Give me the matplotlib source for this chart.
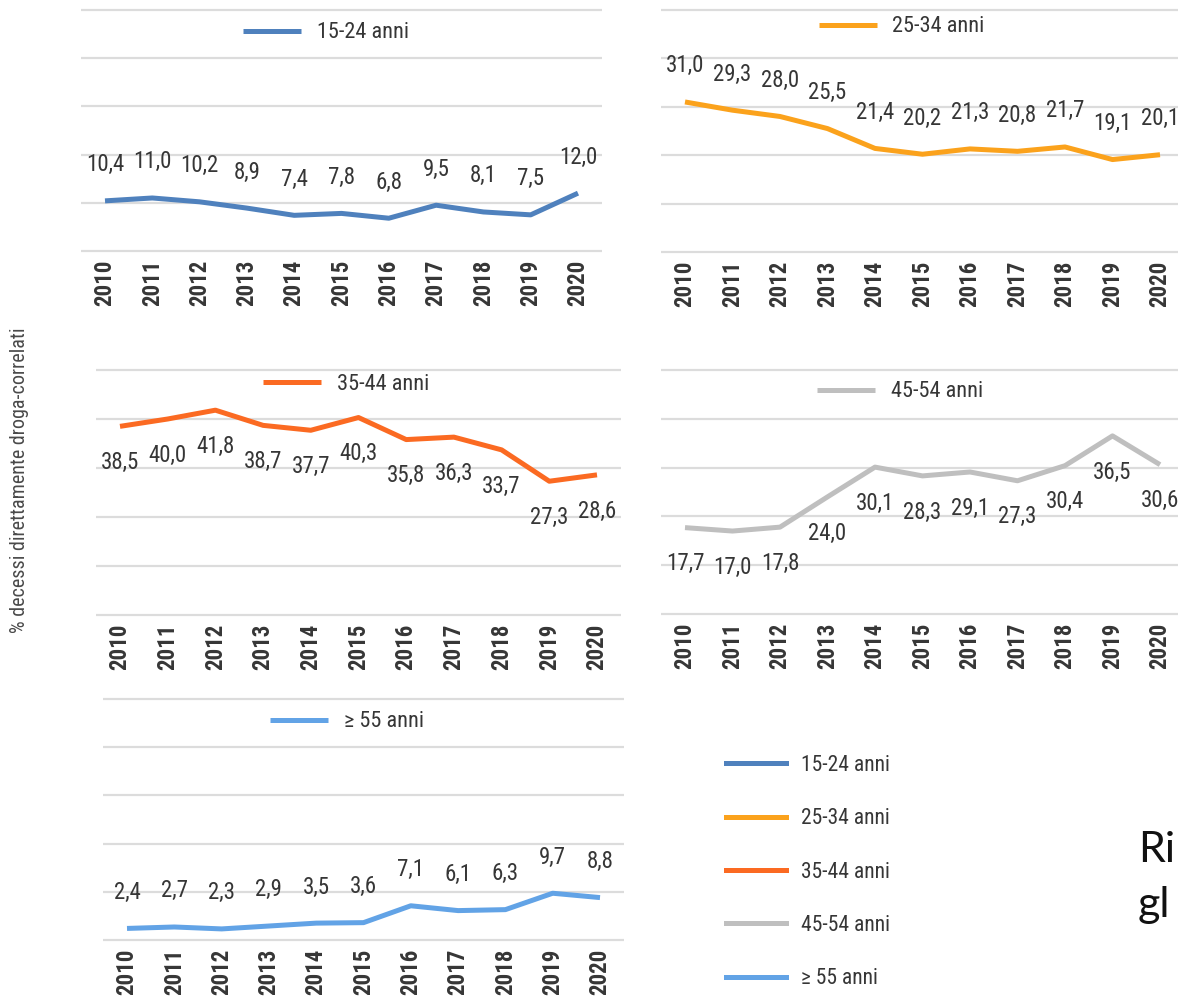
import matplotlib as mpl
from matplotlib import font_manager
import matplotlib.pyplot as plt
import numpy as np

# pick a narrow face if one is around
_names = set(f.name for f in font_manager.fontManager.ttflist)
_pref = ['Roboto Condensed', 'Liberation Sans Narrow', 'Open Sans Condensed', 'Noto Sans Condensed',
         'DejaVu Sans Condensed', 'Roboto', 'Liberation Sans']
NARROW = [n for n in _pref if n in _names][:1] + ['DejaVu Sans']
mpl.rcParams['font.family'] = NARROW

YEARS = ['2010', '2011', '2012', '2013', '2014', '2015', '2016', '2017', '2018', '2019', '2020']

AGE_15_24 = [10.4, 11.0, 10.2, 8.9, 7.4, 7.8, 6.8, 9.5, 8.1, 7.5, 12.0]
AGE_25_34 = [31.0, 29.3, 28.0, 25.5, 21.4, 20.2, 21.3, 20.8, 21.7, 19.1, 20.1]
AGE_35_44 = [38.5, 40.0, 41.8, 38.7, 37.7, 40.3, 35.8, 36.3, 33.7, 27.3, 28.6]
AGE_45_54 = [17.7, 17.0, 17.8, 24.0, 30.1, 28.3, 29.1, 27.3, 30.4, 36.5, 30.6]
AGE_55 = [2.4, 2.7, 2.3, 2.9, 3.5, 3.6, 7.1, 6.1, 6.3, 9.7, 8.8]

LABELS = ['15-24 anni', '25-34 anni', '35-44 anni', '45-54 anni', '\u2265 55 anni']
COLORS = ['#4f81bd', '#fba21c', '#fb6a22', '#bfbfbf', '#62a3e6']

W, H = 1178, 1001
TXT = '#363636'

def px_rect(x0, x10, y0, y50):
    # x0/x10: pixel of first/last category, y0/y50: pixel of value 0 / 50
    step = (x10 - x0) / 10.0
    left = x0 - step / 2
    right = x10 + step / 2
    return [left / W, 1 - y0 / H, (right - left) / W, (y0 - y50) / H]

# panel: rect, values, above/below labels, legend anchor
panels = [
    (px_rect(105, 578, 251, 10), AGE_15_24, 1, (0.47, 0.905)),
    (px_rect(685, 1160, 252, 10), AGE_25_34, 1, (0.46, 0.93)),
    (px_rect(120, 597, 615, 370), AGE_35_44, -1, (0.476, 0.94)),
    (px_rect(685, 1160, 614, 370), AGE_45_54, -1, (0.457, 0.91)),
    (px_rect(127, 600, 940, 699), AGE_55, 1, (0.468, 0.905)),
]

fig = plt.figure(figsize=(W / 100, H / 100), dpi=100)
x = np.arange(len(YEARS))

for i, (rect, vals, side, anchor) in enumerate(panels):
    ax = fig.add_axes(rect)
    ax.hlines(range(0, 51, 10), -0.5, 10.5, color='#dcdcdc', lw=1.6, clip_on=False, zorder=1)
    ax.plot(x, vals, color=COLORS[i], lw=3.6, label=LABELS[i], zorder=3, solid_capstyle='butt')
    for xi, v in zip(x, vals):
        ax.annotate(('%.1f' % v).replace('.', ','), (xi, v), xytext=(0, 26 * side),
                    textcoords='offset points', ha='center', va='center',
                    fontsize=16.5, color=TXT, zorder=4)
    ax.set_xlim(-0.5, 10.5)
    ax.set_ylim(0, 50)
    ax.set_yticks([])
    ax.set_xticks(x)
    ax.set_xticklabels(YEARS, rotation=90, fontsize=16.5, fontweight='bold', color=TXT)
    ax.tick_params(axis='x', length=0, pad=6)
    for s in ax.spines.values():
        s.set_visible(False)
    ax.patch.set_alpha(0)
    ax.legend(loc='center', bbox_to_anchor=anchor, frameon=False, fontsize=16,
              handlelength=2.6, handletextpad=0.7, labelcolor=TXT)

fig.text(20 / W, 1 - 480 / H, '% decessi direttamente droga-correlati', rotation=90,
         ha='center', va='center', fontsize=14.5, color='#4a4a4a')

handles = [plt.Line2D([], [], color=c, lw=3.6) for c in COLORS]
fig.legend(handles, LABELS, loc='center', bbox_to_anchor=(808 / W, 1 - 872 / H), frameon=False,
           fontsize=15.5, handlelength=2.8, handletextpad=0.7, labelspacing=1.5, labelcolor=TXT)

fig.text(1138 / W, 1 - 850 / H, 'Ri', fontsize=31, family=['Lato', 'DejaVu Sans'],
         ha='left', va='center', color='#111111')
fig.text(1138 / W, 1 - 905 / H, 'gl', fontsize=31, family=['Lato', 'DejaVu Sans'],
         ha='left', va='center', color='#111111')

fig.savefig('out.png', dpi=100)
